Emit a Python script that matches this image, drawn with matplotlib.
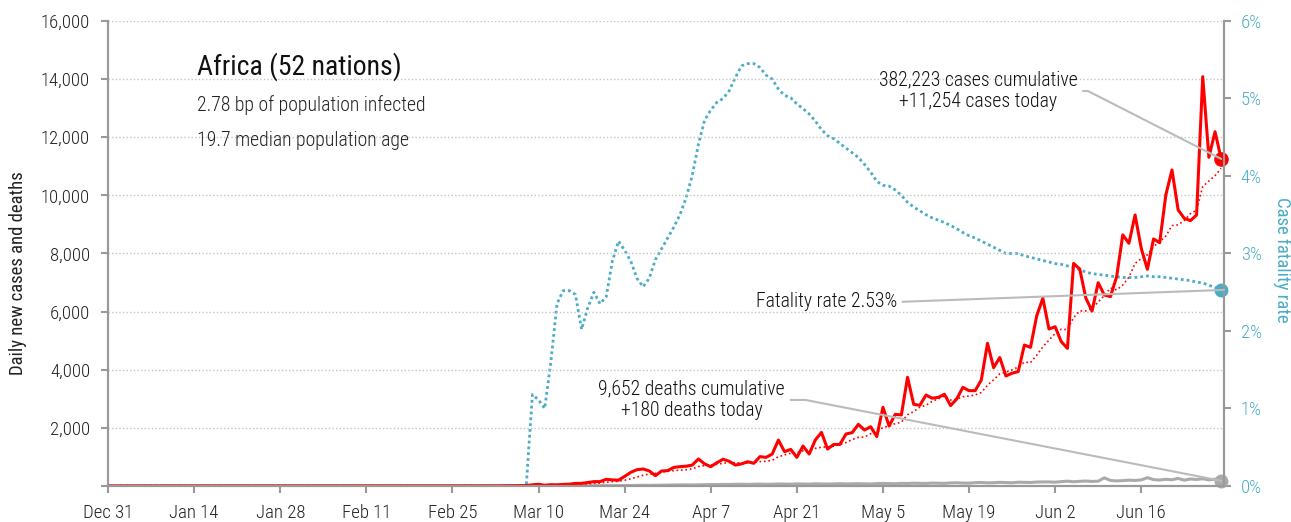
import numpy as np
import pandas as pd
import matplotlib
matplotlib.use('agg')
import matplotlib.pyplot as plt
import matplotlib.dates as mdates
import matplotlib.font_manager as fm
from matplotlib.ticker import FuncFormatter, MultipleLocator

# pick a condensed face if one is around
names = {f.name for f in fm.fontManager.ttflist}
FONT = 'DejaVu Sans'
for cand in ['Roboto Condensed', 'Liberation Sans Narrow', 'Open Sans Condensed', 'DejaVu Sans Condensed']:
    if cand in names:
        FONT = cand
        break
plt.rcParams['font.family'] = [FONT, 'DejaVu Sans']
plt.rcParams['font.weight'] = 'light'

RED = '#ff0000'
BLUE = '#4bacc6'
GREY = '#aaaaaa'
LEAD = '#bbbbbb'
AXC = '#999999'

# daily values, Dec 31 2019 .. Jun 29 2020
start = '2019-12-31'
cases = [0] * 61 + [
    1, 2, 3, 5, 8, 10, 12, 15, 40,                      # Mar 1 - Mar 9
    60, 25, 45, 40, 55, 60, 90, 90, 120, 150,           # Mar 10 -
    150, 230, 210, 200, 330, 470, 560, 585, 520, 355,
    515, 530, 640, 665, 680, 720, 930, 760, 665, 800,
    920, 850, 720, 760, 835, 780, 1010, 985, 1100, 1580,
    1180, 1260, 985, 1375, 1100, 1580, 1845, 1270, 1430, 1430,
    1790, 1835, 2120, 1925, 2040, 1700, 2710, 2065, 2465, 2445,
    3740, 2810, 2775, 3130, 3020, 3050, 3155, 2765, 2995, 3395,
    3280, 3280, 3650, 4910, 4070, 4420, 3785, 3880, 3935, 4850,
    4770, 5850, 6460, 5400, 5480, 4965, 4735, 7660, 7465, 6460,
    6020, 6995, 6570, 6515, 7200, 8640, 8350, 9325, 8180, 7455,
    8500, 8370, 10015, 10875, 9500, 9210, 9130, 9325, 14085, 11310,
    12190, 11254,
]
deaths = [0] * 61 + [
    0, 0, 0, 0, 1, 0, 1, 1, 2,
    1, 2, 2, 3, 3, 4, 5, 6, 6, 8, 10, 12, 11, 15, 14, 18, 20, 24, 22, 26, 28, 30,
    35, 38, 40, 36, 42, 45, 50, 48, 55, 52, 58, 60, 55, 62, 65, 58, 60, 70, 66, 62,
    72, 68, 64, 75, 70, 66, 72, 78, 70, 74,
    80, 76, 70, 82, 88, 84, 78, 90, 86, 95, 92, 88, 100, 96, 90, 105, 110, 100, 98,
    115, 120, 108, 112, 125, 118, 110, 130, 125, 120, 135, 140,
    140, 130, 150, 165, 145, 160, 170, 155, 165, 280, 190, 175, 185, 200, 190, 210,
    285, 220, 205, 230, 215, 260, 200, 240, 225, 250, 210, 235, 180,
]
# case fatality rate, percent
cfr = [0.0] * 69 + [
    1.18, 1.11, 1.0, 1.6, 2.35, 2.52, 2.52, 2.47, 2.02, 2.3, 2.5,
    2.35, 2.44, 2.9, 3.16, 3.04, 2.9, 2.68, 2.57, 2.68, 2.92,
    3.06, 3.2, 3.34, 3.5, 3.72, 4.01, 4.41, 4.72, 4.85, 4.95,
    5.0, 5.1, 5.27, 5.42, 5.45, 5.45, 5.4, 5.3, 5.25, 5.12,
    5.04, 5.01, 4.93, 4.87, 4.8, 4.71, 4.6, 4.52, 4.48, 4.42,
    4.36, 4.3, 4.24, 4.15, 4.05, 3.93, 3.88, 3.87, 3.82, 3.75,
    3.66, 3.6, 3.55, 3.5, 3.46, 3.43, 3.4, 3.36, 3.32, 3.27,
    3.23, 3.2, 3.16, 3.12, 3.08, 3.04, 3.0, 3.0, 3.0, 2.97,
    2.95, 2.93, 2.91, 2.89, 2.87, 2.86, 2.84, 2.82, 2.79, 2.76,
    2.74, 2.73, 2.72, 2.71, 2.70, 2.69, 2.69, 2.69, 2.70, 2.71,
    2.70, 2.70, 2.69, 2.68, 2.67, 2.66, 2.65, 2.63, 2.62, 2.59,
    2.56, 2.53,
]

title = 'Africa (52 nations)'
sub1 = '2.78 bp of population infected'
sub2 = '19.7 median population age'
cases_note = '382,223 cases cumulative\n+11,254 cases today'
deaths_note = '9,652 deaths cumulative\n+180 deaths today'
cfr_note = 'Fatality rate 2.53%'

df = pd.DataFrame({'cases': cases, 'deaths': deaths, 'cfr': cfr},
                  index=pd.date_range(start, periods=len(cases), freq='D'))
df['avg'] = df['cases'].rolling(7, min_periods=1).mean()

fig = plt.figure(figsize=(12.91, 5.22), dpi=100)
ax = fig.add_axes([0.0837, 0.069, 0.8644, 0.8908])
ax2 = ax.twinx()
ax.set_zorder(ax2.get_zorder() + 1)
ax.patch.set_visible(False)

# fatality rate on the right
ax2.plot(df.index, df['cfr'], color=BLUE, lw=2.0, linestyle=(0, (1, 1.1)),
         dash_capstyle='butt')
ax2.plot(df.index[-1], df['cfr'].iloc[-1], 'o', color=BLUE, ms=9, clip_on=False)
ax2.set_ylim(0, 6)
ax2.yaxis.set_major_locator(MultipleLocator(1))
ax2.yaxis.set_major_formatter(FuncFormatter(lambda v, p: '{:.0f}%'.format(v)))

ax.plot(df.index, df['deaths'], color=GREY, lw=2.2)
ax.plot(df.index, df['avg'], color=RED, lw=1.2, linestyle=':')
ax.plot(df.index, df['cases'], color=RED, lw=2.2)
ax.plot(df.index[-1], df['cases'].iloc[-1], 'o', color=RED, ms=9.5, clip_on=False)
ax.plot(df.index[-1], df['deaths'].iloc[-1], 'o', color=GREY, ms=9, clip_on=False)

ax.set_ylim(0, 16000)
ax.yaxis.set_major_locator(MultipleLocator(2000))
ax.yaxis.set_major_formatter(FuncFormatter(lambda v, p: '' if v == 0 else '{:,.0f}'.format(v)))
ax.set_xlim(df.index[0], df.index[-1] + pd.Timedelta(hours=11))
ax.set_xticks(pd.date_range(start, df.index[-1], freq='14D'))
ax.xaxis.set_major_formatter(FuncFormatter(
    lambda v, p: '{:%b} {}'.format(mdates.num2date(v), mdates.num2date(v).day)))

ax.yaxis.grid(True, linestyle=(0, (1, 1.6)), color='#c4c4c4', lw=1.0)
for a in (ax, ax2):
    a.spines['top'].set_visible(False)
    for s in ('left', 'right', 'bottom'):
        a.spines[s].set_color(AXC)
        a.spines[s].set_linewidth(1.5)
ax.tick_params(axis='both', colors=AXC, width=1.5, length=5, labelsize=13.5,
               labelcolor='#222222', pad=8)
ax2.tick_params(axis='y', colors=AXC, width=1.5, length=5, labelsize=13.5,
                labelcolor=BLUE, pad=7)

ax.set_ylabel('Daily new cases and deaths', fontsize=13.5, color='#222222')
ax.yaxis.label.set(va='center', ha='center')
ax.yaxis.set_label_coords(-0.0806, 0.458)
ax2.set_ylabel('Case fatality rate', fontsize=13.5, color=BLUE, rotation=270)
ax2.yaxis.label.set(va='center', ha='center')
ax2.yaxis.set_label_coords(1.052, 0.486)

ax.text(0.0797, 0.901, title, transform=ax.transAxes, fontsize=20, va='center',
        color='#111111', fontweight='normal')
ax.text(0.0797, 0.819, sub1, transform=ax.transAxes, fontsize=14.2, va='center', color='#222222')
ax.text(0.0797, 0.742, sub2, transform=ax.transAxes, fontsize=14.2, va='center', color='#222222')

lead = dict(arrowstyle='-', color=LEAD, lw=1.5, shrinkA=2, shrinkB=0)
ax.annotate(cases_note, xy=(df.index[-1], df['cases'].iloc[-1]), xycoords='data',
            xytext=(0.7796, 0.8495), textcoords='axes fraction', fontsize=14.2,
            ha='center', va='center', multialignment='center', color='#111111',
            arrowprops=dict(lead, relpos=(1, 0.5),
                            connectionstyle='angle,angleA=0,angleB=-27,rad=0'))
ax.annotate(deaths_note, xy=(df.index[-1], df['deaths'].iloc[-1]), xycoords='data',
            xytext=(0.523, 0.185), textcoords='axes fraction', fontsize=14.2,
            ha='center', va='center', multialignment='center', color='#111111',
            arrowprops=dict(lead, relpos=(1, 0.5),
                            connectionstyle='angle,angleA=0,angleB=-11,rad=0'))
ax.annotate(cfr_note, xy=(1.0, df['cfr'].iloc[-1] / 6.0), xycoords='axes fraction',
            xytext=(0.707, 0.3957), textcoords='axes fraction', fontsize=14.2,
            ha='right', va='center', color='#111111',
            arrowprops=dict(lead, relpos=(1, 0.5)))

plt.savefig('out.png', dpi=100)
